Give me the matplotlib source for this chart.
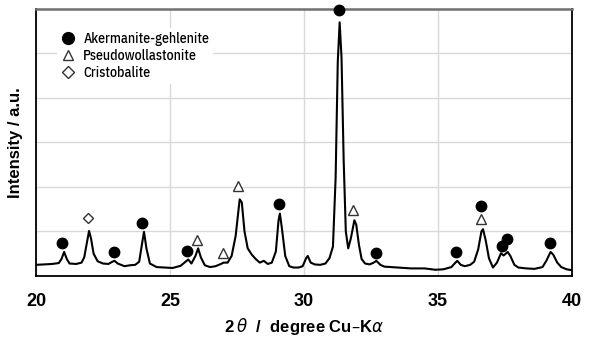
import matplotlib
matplotlib.use('Agg')
import matplotlib.pyplot as plt
from matplotlib.lines import Line2D

# traced XRD pattern (2theta, intensity in grid units)
two_theta = [20.0, 20.3, 20.6, 20.85, 20.95, 21.05, 21.15, 21.25, 21.5, 21.7,
             21.8, 21.9, 21.98, 22.05, 22.15, 22.3, 22.5, 22.7, 22.85, 22.93,
             23.05, 23.3, 23.5, 23.7, 23.85, 23.95, 24.03, 24.12, 24.25, 24.5,
             24.8, 25.1, 25.4, 25.6, 25.68, 25.8, 25.95, 26.05, 26.15, 26.3,
             26.5, 26.7, 26.9, 27.0, 27.15, 27.3, 27.45, 27.6, 27.68, 27.78,
             27.9, 28.05, 28.2, 28.35, 28.5, 28.65, 28.8, 28.95, 29.05, 29.1,
             29.18, 29.3, 29.45, 29.6, 29.8, 29.95, 30.08, 30.14, 30.25, 30.4,
             30.6, 30.8, 30.95, 31.08, 31.18, 31.26, 31.33, 31.4, 31.48, 31.56,
             31.65, 31.75, 31.88, 31.95, 32.05, 32.15, 32.28, 32.45, 32.6, 32.7,
             32.85, 33.0, 33.5, 34.0, 34.5, 34.9, 35.2, 35.5, 35.65, 35.72,
             35.85, 36.0, 36.2, 36.35, 36.5, 36.62, 36.68, 36.78, 36.9, 37.05,
             37.2, 37.35, 37.45, 37.6, 37.7, 37.85, 38.0, 38.3, 38.6, 38.9,
             39.05, 39.2, 39.3, 39.45, 39.6, 39.8, 40.0]
intensity = [0.25, 0.26, 0.27, 0.29, 0.38, 0.54, 0.38, 0.28, 0.27, 0.30,
             0.42, 0.75, 1.01, 0.85, 0.50, 0.33, 0.28, 0.27, 0.32, 0.34,
             0.28, 0.22, 0.24, 0.25, 0.32, 0.70, 0.99, 0.62, 0.28, 0.20,
             0.19, 0.18, 0.23, 0.33, 0.37, 0.28, 0.45, 0.62, 0.42, 0.24,
             0.20, 0.22, 0.27, 0.30, 0.30, 0.45, 0.90, 1.72, 1.65, 1.00,
             0.62, 0.48, 0.38, 0.30, 0.34, 0.27, 0.30, 0.55, 1.25, 1.40,
             1.05, 0.45, 0.22, 0.19, 0.19, 0.22, 0.40, 0.45, 0.30, 0.26,
             0.25, 0.28, 0.40, 0.66, 2.20, 4.80, 5.69, 4.90, 2.60, 1.00,
             0.62, 0.85, 1.25, 1.15, 0.70, 0.38, 0.28, 0.26, 0.30, 0.34,
             0.25, 0.21, 0.19, 0.17, 0.17, 0.14, 0.15, 0.20, 0.30, 0.34,
             0.25, 0.22, 0.25, 0.32, 0.60, 1.00, 1.05, 0.80, 0.40, 0.19,
             0.30, 0.51, 0.46, 0.54, 0.45, 0.25, 0.19, 0.17, 0.16, 0.20,
             0.35, 0.54, 0.48, 0.30, 0.20, 0.15, 0.13]

# phase markers
ak_x = [20.98, 22.91, 23.94, 25.65, 29.08, 31.31, 32.69, 35.67, 36.60, 37.38, 37.56, 39.18]
ak_y = [0.73, 0.53, 1.19, 0.57, 1.61, 5.97, 0.52, 0.53, 1.57, 0.67, 0.84, 0.75]
pw_x = [26.00, 26.97, 27.55, 31.84, 36.60]
pw_y = [0.81, 0.52, 2.02, 1.49, 1.27]
cr_x = [21.93]
cr_y = [1.29]

labels = ['Akermanite-gehlenite', 'Pseudowollastonite', 'Cristobalite']
x_ticks = [20, 25, 30, 35, 40]

plt.rcParams['font.family'] = ['Liberation Sans', 'DejaVu Sans']

fig = plt.figure(figsize=(5.95, 3.38), dpi=100)
ax = fig.add_axes([36 / 595, 62 / 338, 536 / 595, 267.5 / 338])

ax.plot(two_theta, intensity, color='black', lw=1.5, zorder=3)
ax.plot(ak_x, ak_y, 'o', color='black', ms=7.5, zorder=4, clip_on=False)
ax.plot(pw_x, pw_y, '^', mfc='white', mec='#333333', mew=1.0, ms=6.5, zorder=4)
ax.plot(cr_x, cr_y, 'D', mfc='white', mec='#333333', mew=1.0, ms=5.5, zorder=4)

ax.set_xlim(20, 40)
ax.set_ylim(0, 6)
ax.set_xticks(x_ticks)
ax.set_xticklabels([str(t) for t in x_ticks], fontsize=13, fontweight='bold')
ax.set_yticks([1, 2, 3, 4, 5])
ax.set_yticklabels([])
ax.tick_params(axis='x', length=0, pad=12)
ax.tick_params(axis='y', length=0, pad=0)
ax.grid(True, color='#d9d9d9', lw=1.0, zorder=0)
ax.set_axisbelow(True)

for side in ['left', 'bottom', 'right']:
    ax.spines[side].set_color('black')
    ax.spines[side].set_linewidth(1.3)
ax.spines['top'].set_color('#707070')
ax.spines['top'].set_linewidth(1.8)

ax.set_xlabel('2\u2009$\\theta$  /  degree Cu\u2013K$\\alpha$', fontsize=12,
              fontweight='bold')
ax.xaxis.set_label_coords(0.5, -0.15)
ax.set_ylabel('Intensity / a.u.', fontsize=12, fontweight='bold')
ax.yaxis.set_label_coords(-0.024, 0.5)

handles = [
    Line2D([], [], ls='none', marker='o', color='black', ms=8.5),
    Line2D([], [], ls='none', marker='^', mfc='white', mec='#333333', mew=1.0, ms=7),
    Line2D([], [], ls='none', marker='D', mfc='white', mec='#333333', mew=1.0, ms=6),
]
leg = ax.legend(handles, labels, loc='upper left', bbox_to_anchor=(0.026, 0.953),
                frameon=True, fancybox=False, edgecolor='none', facecolor='white',
                framealpha=1.0, handlelength=1.0, handletextpad=0.6,
                labelspacing=0.2, borderpad=0.3,
                prop={'family': ['IBM Plex Sans Condensed', 'Liberation Sans'],
                      'size': 10, 'weight': 500})
leg.set_zorder(5)

fig.savefig('out.png', dpi=100)
